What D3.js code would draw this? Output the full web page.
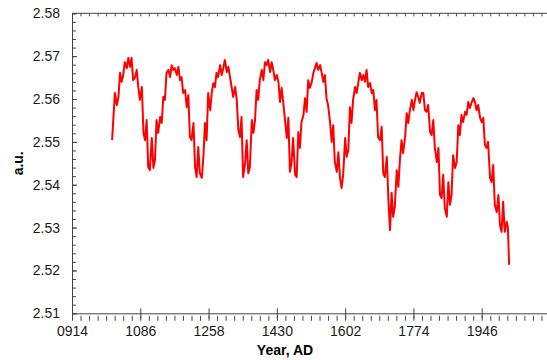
<!DOCTYPE html>
<html>
<head>
<meta charset="utf-8">
<script src="https://cdn.jsdelivr.net/npm/d3@7"></script>
<style>
  body { margin: 0; background: #fff; }
  svg { display: block; }
  .tick text { font-family: "Liberation Sans", Arial, sans-serif; font-size: 14px; fill: #1a1a1a; }
  .axis path, .axis line { stroke: #444; }
</style>
</head>
<body>
<script>
// years (AD) and values (a.u.)
let years = [1015,1022,1027,1031,1035,1039,1043,1047,1052,1056,1060,1064,1068,1073,1077,1081,1085,1090,1094,1098,
  1102,1106,1110,1115,1119,1123,1127,1131,1136,1140,1144,1148,1152,1157,1161,1165,1169,1173,1178,1182,
  1186,1190,1194,1199,1203,1207,1211,1215,1220,1224,1228,1232,1236,1241,1245,1249,1253,1257,1262,1266,
  1270,1274,1278,1282,1287,1291,1295,1299,1304,1308,1312,1316,1320,1325,1329,1333,1337,1341,1345,1350,
  1354,1358,1362,1367,1371,1375,1379,1383,1387,1392,1396,1400,1404,1408,1413,1417,1421,1425,1430,1434,
  1438,1442,1446,1450,1455,1459,1463,1467,1471,1476,1480,1484,1488,1492,1497,1501,1505,1509,1513,1518,
  1522,1526,1530,1534,1539,1543,1547,1551,1555,1559,1564,1568,1572,1576,1581,1585,1589,1593,1597,1602,
  1606,1610,1614,1618,1622,1627,1631,1635,1639,1644,1648,1652,1656,1660,1665,1669,1673,1677,1681,1685,
  1690,1694,1698,1702,1707,1711,1715,1719,1723,1727,1732,1736,1740,1744,1748,1753,1757,1761,1765,1770,
  1774,1778,1782,1786,1790,1795,1799,1803,1807,1811,1816,1820,1824,1828,1833,1837,1841,1845,1849,1853,
  1858,1862,1866,1870,1874,1879,1883,1887,1891,1895,1899,1904,1908,1912,1916,1921,1925,1929,1933,1937,
  1942,1946,1950,1954,1958,1962,1967,1971,1975,1979,1984,1988,1992,1996,2000,2004,2009,2012,2015];

let values = [2.5504,2.5614,2.5586,2.5605,2.5661,2.5640,2.5656,2.5686,2.5672,2.5696,2.5675,2.5696,2.5644,2.5651,2.5668,2.5628,2.5598,2.5628,2.5521,2.5504,
  2.5551,2.5441,2.5434,2.5509,2.5439,2.5458,2.5551,2.5521,2.5558,2.5544,2.5605,2.5598,2.5661,2.5668,2.5651,2.5679,2.5668,2.5672,2.5656,2.5675,
  2.5644,2.5651,2.5614,2.5621,2.5581,2.5609,2.5511,2.5504,2.5544,2.5441,2.5418,2.5488,2.5427,2.5416,2.5465,2.5544,2.5504,2.5614,2.5574,2.5614,
  2.5637,2.5628,2.5661,2.5651,2.5679,2.5656,2.5672,2.5691,2.5663,2.5675,2.5651,2.5628,2.5605,2.5628,2.5598,2.5528,2.5511,2.5558,2.5418,2.5451,
  2.5504,2.5427,2.5441,2.5551,2.5521,2.5551,2.5621,2.5598,2.5644,2.5668,2.5644,2.5686,2.5679,2.5691,2.5663,2.5686,2.5668,2.5644,2.5656,2.5640,
  2.5593,2.5626,2.5593,2.5556,2.5509,2.5556,2.5430,2.5453,2.5509,2.5423,2.5418,2.5523,2.5486,2.5546,2.5563,2.5602,2.5570,2.5644,2.5626,2.5640,
  2.5661,2.5672,2.5684,2.5668,2.5679,2.5661,2.5640,2.5656,2.5602,2.5586,2.5546,2.5500,2.5539,2.5453,2.5430,2.5476,2.5416,2.5392,2.5423,2.5509,
  2.5465,2.5481,2.5581,2.5544,2.5598,2.5628,2.5614,2.5637,2.5661,2.5644,2.5656,2.5640,2.5668,2.5628,2.5637,2.5614,2.5621,2.5574,2.5598,2.5511,
  2.5504,2.5535,2.5427,2.5418,2.5465,2.5364,2.5294,2.5381,2.5325,2.5348,2.5434,2.5395,2.5458,2.5504,2.5474,2.5511,2.5567,2.5544,2.5574,2.5598,
  2.5574,2.5598,2.5616,2.5605,2.5591,2.5614,2.5614,2.5574,2.5570,2.5586,2.5523,2.5516,2.5551,2.5486,2.5453,2.5486,2.5376,2.5369,2.5423,2.5346,
  2.5325,2.5406,2.5353,2.5376,2.5469,2.5439,2.5453,2.5539,2.5516,2.5563,2.5546,2.5570,2.5563,2.5593,2.5579,2.5593,2.5602,2.5593,2.5574,2.5586,
  2.5556,2.5546,2.5556,2.5493,2.5486,2.5500,2.5416,2.5406,2.5446,2.5353,2.5336,2.5376,2.5306,2.5290,2.5360,2.5290,2.5313,2.5299,2.5213];

let xTicks = [914, 1086, 1258, 1430, 1602, 1774, 1946];
let yTicks = [2.51, 2.52, 2.53, 2.54, 2.55, 2.56, 2.57, 2.58];

let width = 547, height = 360;
let margin = { left: 72, top: 13.3, right: -3, bottom: 46.7 };
let plotW = width - margin.left - margin.right;
let plotH = height - margin.top - margin.bottom;

let svg = d3.select("body").append("svg")
  .attr("width", width)
  .attr("height", height);

let x = d3.scaleLinear().domain([914, 2118]).range([0, plotW]);
let y = d3.scaleLinear().domain([2.51, 2.58]).range([plotH, 0]);

let g = svg.append("g").attr("transform", "translate(" + margin.left + "," + margin.top + ")");

/* minor ticks */
let xMinor = d3.range(914, 2118 + 1, 172 / 8);
let yMinor = d3.range(0, 36).map(i => 2.51 + i * 0.002);

g.append("g").attr("class", "axis")
  .attr("transform", "translate(0," + (plotH + 2.5) + ")")
  .call(d3.axisBottom(x).tickValues(xMinor).tickSize(5).tickFormat(""))
  .call(a => a.select(".domain").remove());

g.append("g").attr("class", "axis")
  .call(d3.axisTop(x).tickValues(xMinor).tickSize(-3).tickFormat(""))
  .call(a => a.select(".domain").remove());

g.append("g").attr("class", "axis")
  .call(d3.axisLeft(y).tickValues(yMinor).tickSize(-4).tickFormat(""))
  .call(a => a.select(".domain").remove());

/* major axes */
g.append("g").attr("class", "axis x-axis")
  .attr("transform", "translate(0," + plotH + ")")
  .call(d3.axisBottom(x).tickValues(xTicks).tickSize(5).tickPadding(8).tickSizeOuter(0).tickFormat(d3.format("04d")))
  .call(a => a.selectAll(".tick line").attr("y1", -5));

g.append("g").attr("class", "axis y-axis")
  .call(d3.axisLeft(y).tickValues(yTicks).tickSize(5).tickPadding(7).tickSizeOuter(0).tickFormat(d3.format(".2f")))
  .call(a => a.selectAll(".tick line").attr("x2", 5));

g.append("line").attr("class", "axis")
  .attr("x1", 0).attr("x2", plotW).attr("y1", 0).attr("y2", 0)
  .attr("stroke", "#444");

/* series */
let data = years.map((d, i) => [d, values[i]]);
g.append("path")
  .datum(data)
  .attr("fill", "none")
  .attr("stroke", "#ff0000")
  .attr("stroke-width", 2)
  .attr("stroke-linejoin", "round")
  .attr("d", d3.line().x(d => x(d[0])).y(d => y(d[1])));

/* labels */
svg.append("text")
  .attr("x", 285).attr("y", 355)
  .attr("text-anchor", "middle")
  .style("font-family", "Liberation Sans, Arial, sans-serif")
  .style("font-size", "14px").style("font-weight", "bold")
  .text("Year, AD");

svg.append("text")
  .attr("transform", "translate(23," + (margin.top + plotH / 2) + ") rotate(-90)")
  .attr("text-anchor", "middle")
  .style("font-family", "Liberation Sans, Arial, sans-serif")
  .style("font-size", "14px").style("font-weight", "bold")
  .text("a.u.");
</script>
</body>
</html>
